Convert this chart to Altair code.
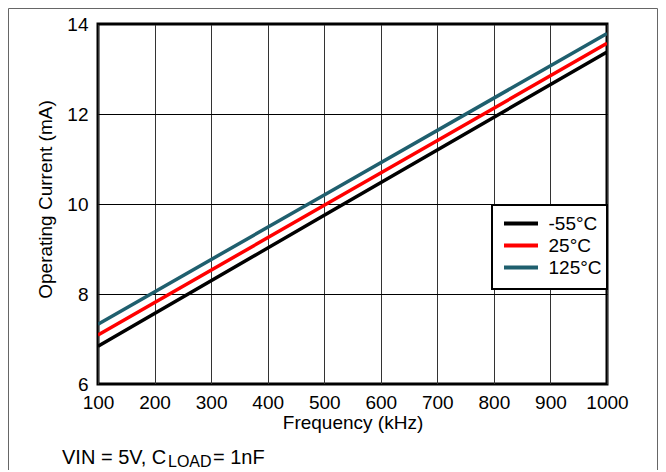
import altair as alt
import pandas as pd

# ---- data ----
freq = [100, 500, 1000]
cur_m55 = [6.84, 9.75, 13.38]
cur_25 = [7.09, 9.97, 13.57]
cur_125 = [7.33, 10.20, 13.79]
series = ["-55°C", "25°C", "125°C"]
colors = ["#000000", "#ff0000", "#1f5f6e"]
x_ticks = [100, 200, 300, 400, 500, 600, 700, 800, 900, 1000]
y_ticks = [6, 8, 10, 12, 14]
note_main = "VIN = 5V, C"
note_sub = "LOAD"
note_end = "= 1nF"

rows = []
for name, vals in zip(series, [cur_m55, cur_25, cur_125]):
    for f, v in zip(freq, vals):
        rows.append({"Frequency": f, "Current": v, "Temp": name})
df = pd.DataFrame(rows)
one = pd.DataFrame({"a": [0]})

FONT = "Liberation Sans"
FS = 19
W, H = 509, 360

x_enc = alt.X(
    "Frequency:Q",
    scale=alt.Scale(domain=[100, 1000], nice=False, zero=False),
    axis=alt.Axis(
        values=x_ticks, format="d", title="Frequency (kHz)", grid=True,
        gridColor="#333333", gridWidth=1, domain=False, ticks=False,
        labelFont=FONT, labelFontSize=FS, labelColor="black", labelPadding=9,
        labelFlush=False, labelOverlap=False, titleFont=FONT, titleFontSize=FS,
        titleFontWeight="normal", titleColor="black", titleY=44,
        titleBaseline="alphabetic",
    ),
)
y_enc = alt.Y(
    "Current:Q",
    scale=alt.Scale(domain=[6, 14], nice=False, zero=False),
    axis=alt.Axis(
        values=y_ticks, format="d", title="Operating Current (mA)", grid=True,
        gridColor="black", gridWidth=1, domain=False, ticks=False,
        labelFont=FONT, labelFontSize=FS, labelColor="black", labelPadding=10,
        labelFlush=False, labelOverlap=False, titleFont=FONT, titleFontSize=FS,
        titleFontWeight="normal", titleColor="black", titleAngle=270,
        titleX=-47, titleY=175, titleBaseline="alphabetic",
    ),
)

legend_box = alt.Chart(one).mark_rect(
    fill="white", stroke="black", strokeWidth=2
).encode(
    x=alt.value(394), x2=alt.value(509), y=alt.value(181), y2=alt.value(265)
)

lines = alt.Chart(df).mark_line(strokeWidth=3.5, clip=True).encode(
    x=x_enc,
    y=y_enc,
    color=alt.Color(
        "Temp:N",
        sort=series,
        scale=alt.Scale(domain=series, range=colors),
        legend=alt.Legend(
            title=None, orient="none", legendX=404.5, legendY=181,
            direction="vertical", symbolType="M-2,0L2,0", symbolSize=289,
            symbolStrokeWidth=4, labelFont=FONT, labelFontSize=FS,
            labelColor="black", padding=8, rowPadding=1, labelOffset=17,
        ),
    ),
)

frame = alt.Chart(one).mark_rule(color="#666666", strokeWidth=1).encode(
    x=alt.value(-89.5), y=alt.value(-15.5), y2=alt.value(446)
)
frame_r = alt.Chart(one).mark_rule(color="#666666", strokeWidth=1).encode(
    x=alt.value(559.5), y=alt.value(-15.5), y2=alt.value(446)
)
frame_t = alt.Chart(one).mark_rule(color="#666666", strokeWidth=1).encode(
    x=alt.value(-89.5), x2=alt.value(559.5), y=alt.value(-15.5)
)

t1 = alt.Chart(one).mark_text(
    text=note_main, font=FONT, fontSize=20, align="left", baseline="alphabetic", color="black"
).encode(x=alt.value(-36), y=alt.value(440))
t2 = alt.Chart(one).mark_text(
    text=note_sub, font=FONT, fontSize=16, align="left", baseline="alphabetic", color="black"
).encode(x=alt.value(70), y=alt.value(443))
t3 = alt.Chart(one).mark_text(
    text=note_end, font=FONT, fontSize=20, align="left", baseline="alphabetic", color="black"
).encode(x=alt.value(115), y=alt.value(440))

chart = alt.layer(legend_box, lines, frame, frame_r, frame_t, t1, t2, t3).properties(
    width=W, height=H,
    padding={"left": 90, "top": 16, "right": 51, "bottom": 86},
    autosize=alt.AutoSizeParams(type="none"),
    background="white",
).configure_view(stroke="black", strokeWidth=3)

chart.save("out.html", embed_options={"renderer": "svg", "actions": False})
